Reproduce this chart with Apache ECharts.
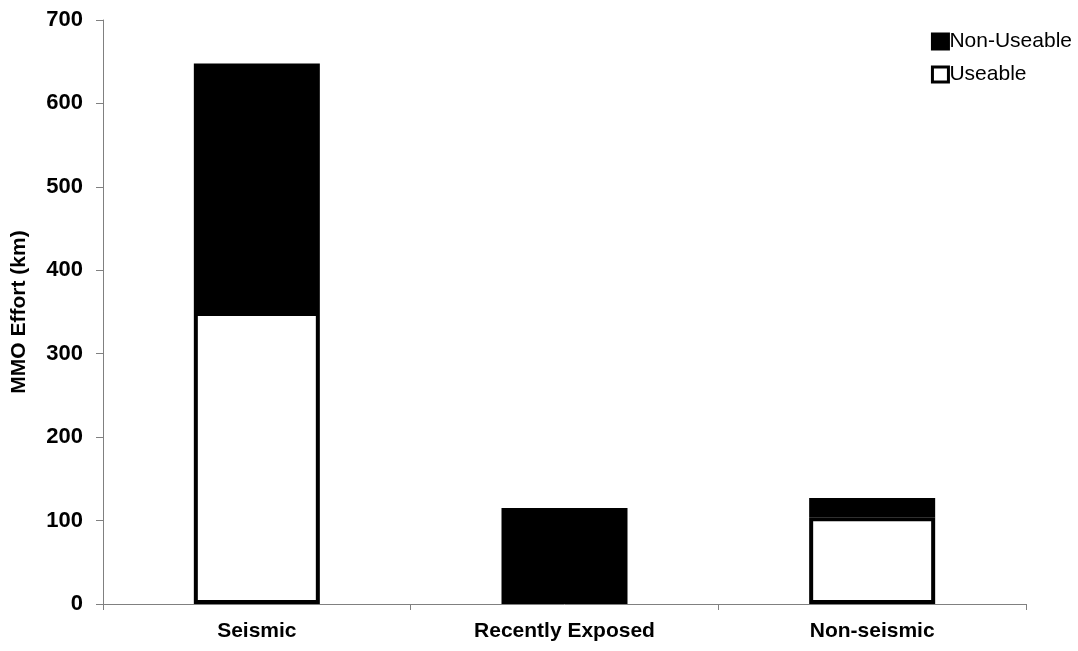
<!DOCTYPE html>
<html>
<head>
<meta charset="utf-8">
<script src="https://cdn.jsdelivr.net/npm/echarts@6/dist/echarts.min.js"></script>
<style>html,body{margin:0;padding:0;background:#fff}#c{width:1078px;height:651px}</style>
</head>
<body>
<div id="c"></div>
<script>
var categories = ["Seismic", "Recently Exposed", "Non-seismic"];
var useable = [350, null, 104];
var nonUseable = [298, 115, 23];
var yTicks = [0, 100, 200, 300, 400, 500, 600, 700];

var chart = echarts.init(document.getElementById('c'));
chart.setOption({
  animation: false,
  backgroundColor: '#fff',
  textStyle: { fontFamily: 'Liberation Sans, Arial, sans-serif' },
  grid: { left: 103, right: 52, top: 20, bottom: 47, containLabel: false },
  legend: {
    orient: 'vertical',
    right: 1,
    top: 26,
    padding: 5,
    itemWidth: 16,
    itemHeight: 15,
    itemGap: 12,
    icon: 'rect',
    textStyle: { fontSize: 21, color: '#000', fontFamily: 'Liberation Sans, Arial, sans-serif', padding: [0, 0, 0, -4] },
    data: [
      { name: 'Non-Useable', itemStyle: { color: '#000', borderColor: '#000', borderWidth: 3 } },
      { name: 'Useable', itemStyle: { color: '#fff', borderColor: '#000', borderWidth: 3 } }
    ]
  },
  xAxis: {
    type: 'category',
    data: categories,
    axisLine: { lineStyle: { color: '#808080', width: 1 } },
    axisTick: { show: true, alignWithLabel: false, length: 6, lineStyle: { color: '#808080' } },
    axisLabel: { fontSize: 21, fontWeight: 'bold', color: '#000', margin: 17 }
  },
  yAxis: {
    type: 'value',
    min: yTicks[0],
    max: yTicks[yTicks.length - 1],
    interval: 100,
    name: 'MMO Effort (km)',
    nameLocation: 'middle',
    nameGap: 73,
    nameTextStyle: { fontSize: 21, fontWeight: 'bold', color: '#000' },
    axisLine: { show: true, lineStyle: { color: '#808080', width: 1 } },
    axisTick: { show: true, length: 7, lineStyle: { color: '#808080' } },
    axisLabel: { fontSize: 22, fontWeight: 'bold', color: '#000', margin: 20 },
    splitLine: { show: false }
  },
  series: [
    {
      name: 'Useable',
      type: 'bar',
      stack: 'total',
      data: useable,
      barWidth: 126,
      itemStyle: { color: '#fff', borderColor: '#000', borderWidth: 4 }
    },
    {
      name: 'Non-Useable',
      type: 'bar',
      stack: 'total',
      data: nonUseable,
      barWidth: 126,
      itemStyle: { color: '#000', borderColor: '#000', borderWidth: 4 }
    }
  ]
});
</script>
</body>
</html>
